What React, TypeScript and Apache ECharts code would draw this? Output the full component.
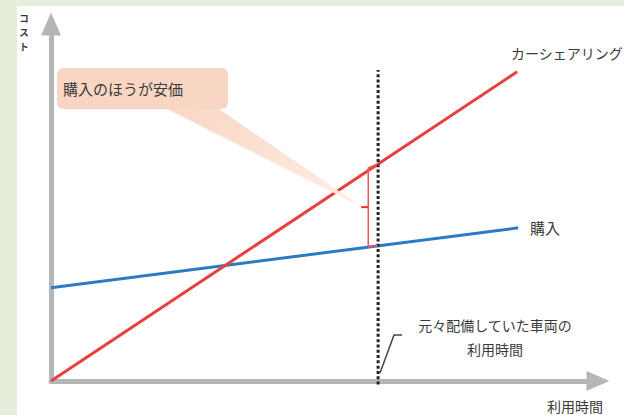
import React, { useEffect, useRef } from "react";
import * as echarts from "echarts";

// ---- data (abstract units: usage time on x, cost on y, 0..100) ----
const carShareX = [0, 85.2];
const carShareY = [0, 86.6];
const purchaseX = [0, 85.4];
const purchaseY = [26.1, 42.9];
const usageTime = 59.8; // original vehicle usage time
const usageLineY = [-1, 87.1];
const bracketX = [59.8, 58.0, 58.0, 59.8];
const bracketY = [60.8, 59.7, 37.6, 37.9];
const bracketTickX = [58.0, 56.7];
const bracketTickY = [48.7, 48.7];

const labelCarShare = "カーシェアリング";
const labelPurchase = "購入";
const labelCallout = "購入のほうが安価";
const labelUsage = "元々配備していた車両の\n利用時間";
const labelXAxis = "利用時間";
const labelYAxis = ["コ", "ス", "ト"];

const FONT = "'Noto Sans CJK JP', 'Noto Sans', sans-serif";

export default function App() {
  const ref = useRef<HTMLDivElement>(null);
  useEffect(() => {
    document.body.style.margin = "0";
    const chart = echarts.init(ref.current!, null, { renderer: "svg" });
    const axisCommon = {
      type: "value" as const,
      min: 0,
      max: 100,
      axisLine: {
        show: true,
        symbol: ["none", "triangle"],
        symbolSize: [20, 23],
        lineStyle: { color: "#b4b6b8", width: 5 },
      },
      axisTick: { show: false },
      axisLabel: { show: false },
      splitLine: { show: false },
    };
    const textStyle = (size: number) => ({
      fontFamily: FONT,
      fontSize: size,
      fill: "#3a3a3a",
    });
    chart.setOption({
      animation: false,
      backgroundColor: "#e4eedb",
      grid: { left: 51, right: 26, top: 24, bottom: 34 },
      xAxis: axisCommon,
      yAxis: axisCommon,
      graphic: [
        { type: "rect", z: -10, shape: { x: 17, y: 6, width: 607, height: 409 }, style: { fill: "#ffffff" } },
        {
          type: "polygon",
          z: 5,
          shape: { points: [[163, 107], [216, 107], [362, 207]] },
          style: {
            fill: new echarts.graphic.LinearGradient(0, 0, 1, 1, [
              { offset: 0, color: "#f9d6c4" },
              { offset: 1, color: "#fdeee6" },
            ]),
          },
        },
        {
          type: "rect",
          z: 5,
          shape: { x: 57, y: 68, width: 171, height: 41, r: 6 },
          style: { fill: "#f9d6c4" },
        },
        {
          type: "text",
          z: 6,
          x: 63,
          y: 88,
          style: { ...textStyle(15), text: labelCallout, verticalAlign: "middle" },
        },
        {
          type: "text",
          x: 511,
          y: 53,
          style: { ...textStyle(14), text: labelCarShare, verticalAlign: "middle" },
        },
        {
          type: "text",
          x: 530,
          y: 227,
          style: { ...textStyle(15), text: labelPurchase, verticalAlign: "middle" },
        },
        {
          type: "text",
          x: 495,
          y: 337,
          style: {
            ...textStyle(14),
            text: labelUsage,
            align: "center",
            verticalAlign: "middle",
            lineHeight: 24,
          },
        },
        {
          type: "polyline",
          shape: { points: [[380, 373], [394, 335], [402, 335]] },
          style: { stroke: "#444", lineWidth: 1.5, fill: "none" },
        },
        {
          type: "text",
          x: 547,
          y: 406,
          style: { ...textStyle(14), text: labelXAxis, verticalAlign: "middle" },
        },
        ...labelYAxis.map((ch, i) => ({
          type: "text",
          x: 24,
          y: 18 + i * 14,
          style: { ...textStyle(9.5), text: ch, align: "center", verticalAlign: "middle", fontWeight: "bold" },
        })),
      ],
      series: [
        {
          type: "line",
          data: purchaseX.map((x, i) => [x, purchaseY[i]]),
          symbol: "none",
          lineStyle: { color: "#2b7bc3", width: 3 },
          z: 3,
        },
        {
          type: "line",
          data: carShareX.map((x, i) => [x, carShareY[i]]),
          symbol: "none",
          lineStyle: { color: "#e8403e", width: 3 },
          z: 3,
        },
        {
          type: "line",
          data: usageLineY.map((y) => [usageTime, y]),
          symbol: "none",
          clip: false,
          lineStyle: { color: "#222", width: 3, type: [3, 2.3] },
          z: 4,
        },
        {
          type: "line",
          data: bracketX.map((x, i) => [x, bracketY[i]]),
          symbol: "none",
          lineStyle: { color: "#ee5550", width: 1.5 },
          z: 4,
        },
        {
          type: "line",
          data: bracketTickX.map((x, i) => [x, bracketTickY[i]]),
          symbol: "none",
          lineStyle: { color: "#ee3030", width: 2 },
          z: 4,
        },
      ],
    });
    return () => chart.dispose();
  }, []);
  return <div ref={ref} style={{ width: 624, height: 415 }} />;
}
